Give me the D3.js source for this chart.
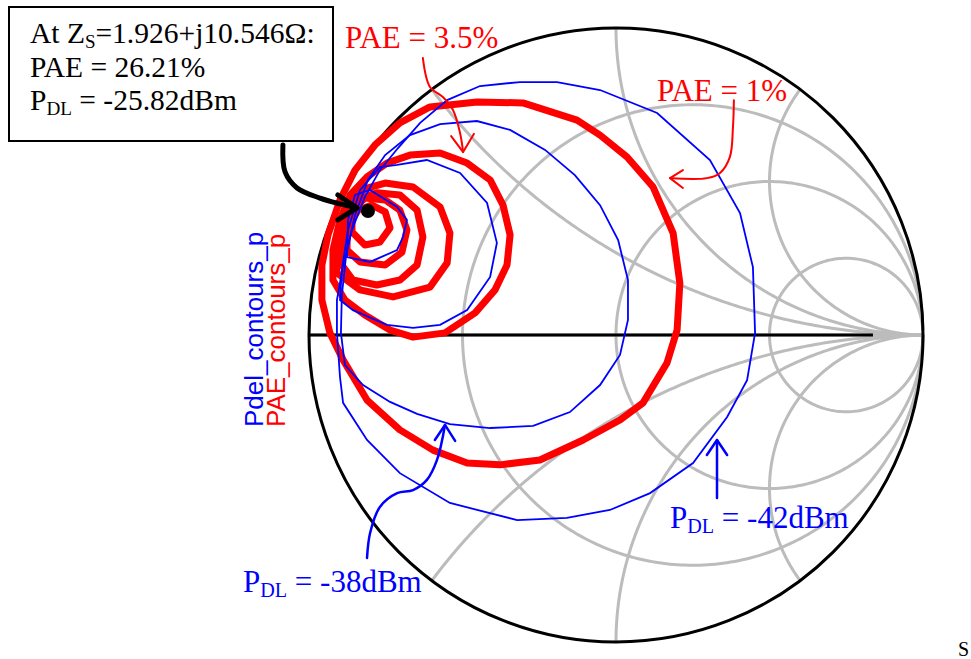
<!DOCTYPE html>
<html>
<head>
<meta charset="utf-8">
<script src="https://cdn.jsdelivr.net/npm/d3@7"></script>
<style>
  body { margin: 0; background: #fff; }
  svg { display: block; }
</style>
</head>
<body>
<svg id="chart" width="971" height="659"></svg>
<script>
// grid values of the smith chart
const resistanceCircles = [1 / 3, 1, 3];
const reactanceArcs = [0.5, 1, 2, -0.5, -1, -2];

// contours, as reflection coefficient [re, im]
const pdelContours = [
  // -42 dBm
  [[-0.909,0.114],[-0.909,0.007],[-0.899,-0.137],[-0.889,-0.221],[-0.811,-0.342],[-0.704,-0.450],
   [-0.541,-0.547],[-0.322,-0.603],[-0.160,-0.596],[-0.020,-0.570],[0.111,-0.515],[0.251,-0.417],
   [0.362,-0.267],[0.427,-0.147],[0.453,0.007],[0.446,0.221],[0.404,0.397],[0.306,0.570],
   [0.134,0.723],[-0.052,0.798],[-0.192,0.824],[-0.313,0.824],[-0.443,0.811],[-0.550,0.765],
   [-0.638,0.691],[-0.710,0.609],[-0.769,0.537],[-0.818,0.450],[-0.860,0.342],[-0.889,0.228]],
  // -38 dBm
  [[-0.896,0.007],[-0.883,-0.098],[-0.824,-0.163],[-0.736,-0.218],[-0.648,-0.257],[-0.541,-0.290],
   [-0.410,-0.303],[-0.270,-0.296],[-0.150,-0.251],[-0.052,-0.163],[0.013,-0.065],[0.039,0.049],
   [0.039,0.179],[0.007,0.309],[-0.052,0.423],[-0.134,0.521],[-0.231,0.603],[-0.345,0.668],
   [-0.453,0.697],[-0.573,0.687],[-0.671,0.651],[-0.752,0.586],[-0.808,0.505],[-0.850,0.391],
   [-0.879,0.261],[-0.893,0.130]],
  [[-0.899,0.114],[-0.857,0.081],[-0.746,0.033],[-0.661,0.023],[-0.573,0.033],[-0.485,0.081],
   [-0.410,0.189],[-0.388,0.300],[-0.420,0.430],[-0.508,0.528],[-0.616,0.570],[-0.713,0.554],
   [-0.769,0.547],[-0.834,0.472],[-0.873,0.342],[-0.893,0.212]],
  [[-0.876,0.254],[-0.801,0.238],[-0.713,0.277],[-0.694,0.319],[-0.681,0.375],[-0.713,0.417],
   [-0.801,0.472],[-0.850,0.456],[-0.873,0.375]]
];

const paeContours = [
  // 1 %
  [[-0.958,0.114],[-0.932,0.007],[-0.889,-0.081],[-0.811,-0.212],[-0.704,-0.309],[-0.596,-0.375],
   [-0.485,-0.417],[-0.378,-0.423],[-0.248,-0.407],[-0.107,-0.342],[0.013,-0.277],[0.088,-0.221],
   [0.166,-0.091],[0.199,0.016],[0.208,0.169],[0.186,0.332],[0.121,0.482],[0.036,0.580],
   [-0.052,0.651],[-0.127,0.700],[-0.303,0.756],[-0.453,0.759],[-0.606,0.743],[-0.704,0.691],
   [-0.785,0.619],[-0.850,0.537],[-0.899,0.440],[-0.938,0.326],[-0.958,0.228]],
  // 3.5 %
  [[-0.922,0.179],[-0.883,0.114],[-0.818,0.065],[-0.736,0.016],[-0.661,-0.007],[-0.557,0.007],
   [-0.459,0.072],[-0.394,0.147],[-0.355,0.228],[-0.345,0.326],[-0.368,0.423],[-0.410,0.505],
   [-0.485,0.560],[-0.573,0.593],[-0.671,0.586],[-0.746,0.560],[-0.811,0.515],[-0.866,0.456],
   [-0.899,0.375],[-0.922,0.277]],
  [[-0.909,0.202],[-0.834,0.147],[-0.726,0.124],[-0.606,0.156],[-0.550,0.235],[-0.541,0.332],
   [-0.573,0.417],[-0.661,0.482],[-0.752,0.495],[-0.834,0.472],[-0.883,0.407],[-0.909,0.309]],
  [[-0.893,0.228],[-0.857,0.179],[-0.779,0.163],[-0.704,0.179],[-0.648,0.228],[-0.629,0.319],
   [-0.648,0.407],[-0.704,0.456],[-0.779,0.463],[-0.850,0.440],[-0.883,0.375],[-0.893,0.293]],
  [[-0.876,0.277],[-0.834,0.238],[-0.752,0.228],[-0.697,0.270],[-0.681,0.342],[-0.704,0.407],
   [-0.752,0.440],[-0.818,0.446],[-0.860,0.407],[-0.876,0.342]],
  [[-0.860,0.336],[-0.818,0.293],[-0.769,0.303],[-0.736,0.349],[-0.752,0.401],[-0.795,0.423],
   [-0.840,0.407],[-0.860,0.375]]
];

// marked source impedance point
const markerPoint = [-0.808, 0.404];

// annotation arrows (shaft, head), same coordinates
const arrows = [
  { color: "#000", width: 5,
    shaft: [[-1.085,0.619],[-1.078,0.531],[-1.039,0.479],[-0.964,0.446],[-0.899,0.427],[-0.844,0.414]],
    head: [[-0.906,0.456],[-0.844,0.414],[-0.906,0.375]] },
  { color: "#f00", width: 2,
    shaft: [[-0.629,0.902],[-0.606,0.808],[-0.564,0.775],[-0.531,0.733],[-0.508,0.658],[-0.498,0.596]],
    head: [[-0.537,0.648],[-0.498,0.596],[-0.463,0.655]] },
  { color: "#f00", width: 2,
    shaft: [[0.384,0.765],[0.381,0.678],[0.371,0.580],[0.339,0.528],[0.296,0.511],[0.176,0.511]],
    head: [[0.218,0.537],[0.176,0.511],[0.218,0.479]] },
  { color: "#00f", width: 2.5,
    shaft: [[0.329,-0.531],[0.329,-0.342]],
    head: [[0.296,-0.391],[0.329,-0.342],[0.362,-0.391]] },
  { color: "#00f", width: 2.5,
    shaft: [[-0.811,-0.726],[-0.801,-0.645],[-0.769,-0.560],[-0.713,-0.515],[-0.661,-0.505],[-0.616,-0.472],[-0.583,-0.407],[-0.557,-0.293]],
    head: [[-0.590,-0.342],[-0.557,-0.293],[-0.524,-0.345]] }
];

const cx = 616, cy = 335, radius = 307;
const svg = d3.select("#chart");

const xScale = d3.scaleLinear().domain([-1, 1]).range([cx - radius, cx + radius]);
const yScale = d3.scaleLinear().domain([-1, 1]).range([cy + radius, cy - radius]);

const line = d3.line().x(d => xScale(d[0])).y(d => yScale(d[1]));
const closedLine = d3.line().x(d => xScale(d[0])).y(d => yScale(d[1])).curve(d3.curveLinearClosed);
const smoothLine = d3.line().x(d => xScale(d[0])).y(d => yScale(d[1])).curve(d3.curveCatmullRom);

// z = r + jx  ->  gamma
function toGamma(r, x) {
  const den = (r + 1) * (r + 1) + x * x;
  return [(r * r - 1 + x * x) / den, (2 * x) / den];
}

const grid = svg.append("g").attr("fill", "none").attr("stroke", "#bcbcbc").attr("stroke-width", 3);

resistanceCircles.forEach(r => {
  const pts = d3.range(-0.4999, 0.5, 0.0025).map(t => toGamma(r, Math.tan(t * Math.PI)));
  grid.append("path").attr("d", line(pts));
});

reactanceArcs.forEach(xv => {
  const pts = d3.range(0, 0.4999, 0.0025).map(t => toGamma(Math.tan(t * Math.PI), xv));
  pts.push([1, 0]);
  grid.append("path").attr("d", line(pts));
});

grid.append("path").attr("d", line([[-1, 0], [1, 0]]));

// real axis and unit circle
svg.append("path")
  .attr("d", line([[-1, 0], [0.837, 0]]))
  .attr("stroke", "#000").attr("stroke-width", 3);

svg.append("circle")
  .attr("cx", xScale(0)).attr("cy", yScale(0))
  .attr("r", xScale(1) - xScale(0))
  .attr("fill", "none").attr("stroke", "#000").attr("stroke-width", 3);

// PAE contours
svg.append("g").selectAll("path")
  .data(paeContours)
  .enter()
  .append("path")
  .attr("d", closedLine)
  .attr("fill", "none")
  .attr("stroke", "#f00")
  .attr("stroke-width", 7)
  .attr("stroke-linejoin", "round");

// Pdel contours
svg.append("g").selectAll("path")
  .data(pdelContours)
  .enter()
  .append("path")
  .attr("d", closedLine)
  .attr("fill", "none")
  .attr("stroke", "#00f")
  .attr("stroke-width", 1.8);

svg.append("circle")
  .attr("cx", xScale(markerPoint[0])).attr("cy", yScale(markerPoint[1]))
  .attr("r", 7).attr("fill", "#000");

// arrows
arrows.forEach(a => {
  svg.append("path").attr("d", smoothLine(a.shaft))
    .attr("fill", "none").attr("stroke", a.color).attr("stroke-width", a.width)
    .attr("stroke-linecap", "round");
  svg.append("path").attr("d", line(a.head))
    .attr("fill", "none").attr("stroke", a.color).attr("stroke-width", a.width)
    .attr("stroke-linecap", "round").attr("stroke-linejoin", "round");
});

// info box
svg.append("rect")
  .attr("x", 9).attr("y", 7).attr("width", 324).attr("height", 134)
  .attr("fill", "#fff").attr("stroke", "#000").attr("stroke-width", 2);

const serif = "'Liberation Serif', 'Times New Roman', serif";

const l1 = svg.append("text").attr("x", 30).attr("y", 43)
  .attr("font-family", serif).attr("font-size", 29.5).attr("fill", "#000");
l1.append("tspan").text("At Z");
l1.append("tspan").attr("font-size", 19).attr("dy", 5).text("S");
l1.append("tspan").attr("dy", -5).text("=1.926+j10.546Ω:");

svg.append("text").attr("x", 30).attr("y", 77)
  .attr("font-family", serif).attr("font-size", 29.5).attr("fill", "#000")
  .text("PAE = 26.21%");

function pdlText(xp, yp, size, color, rest) {
  const t = svg.append("text").attr("x", xp).attr("y", yp)
    .attr("font-family", serif).attr("font-size", size).attr("fill", color);
  t.append("tspan").text("P");
  t.append("tspan").attr("font-size", size * 0.65).attr("dy", 5).text("DL");
  t.append("tspan").attr("dy", -5).text(rest);
}
pdlText(30, 110, 29.5, "#000", " = -25.82dBm");

svg.append("text").attr("x", 345).attr("y", 48)
  .attr("font-family", serif).attr("font-size", 31).attr("fill", "#f00")
  .text("PAE = 3.5%");
svg.append("text").attr("x", 657).attr("y", 101)
  .attr("font-family", serif).attr("font-size", 31).attr("fill", "#f00")
  .text("PAE = 1%");
pdlText(670, 528, 31, "#00f", " = -42dBm");
pdlText(243, 592, 31, "#00f", " = -38dBm");

svg.append("text").attr("x", 958).attr("y", 656)
  .attr("font-family", serif).attr("font-size", 20).attr("fill", "#000")
  .text("S");

// rotated legend
const sans = "'Liberation Sans', Arial, sans-serif";
svg.append("text")
  .attr("transform", "translate(263,427) rotate(-90)")
  .attr("font-family", sans).attr("font-size", 26).attr("fill", "#00f")
  .text("Pdel_contours_p");
svg.append("text")
  .attr("transform", "translate(285,427) rotate(-90)")
  .attr("font-family", sans).attr("font-size", 26).attr("fill", "#f00")
  .text("PAE_contours_p");
</script>
</body>
</html>
